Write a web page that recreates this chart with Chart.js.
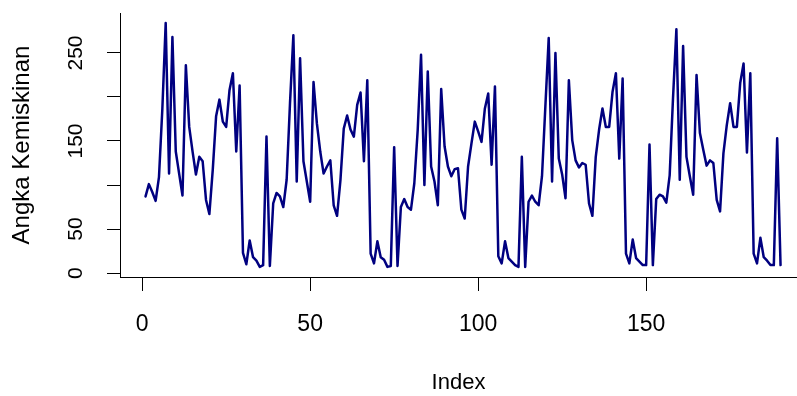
<!DOCTYPE html>
<html>
<head>
<meta charset="utf-8">
<script src="https://cdn.jsdelivr.net/npm/chart.js@4/dist/chart.umd.min.js"></script>
<style>
    html, body { margin: 0; padding: 0; background: #fff; }
</style>
</head>
<body>
<canvas id="povertyChart" width="797" height="396"></canvas>
<script>
// Angka kemiskinan, 38 kab/kota per periode, 5 periode berurutan
const period1 = [87, 101, 92, 82, 109, 186, 284, 113, 268, 138, 113, 88, 236, 166, 138, 112, 132, 127, 83, 67,
    117, 178, 197, 172, 166, 208, 227, 138, 213, 23, 10, 37, 18, 14, 7, 9, 155, 8];
const period2 = [79, 91, 87, 75, 106, 193, 270, 104, 244, 127, 104, 81, 217, 170, 138, 113, 121, 128, 77, 65,
    105, 164, 179, 163, 155, 191, 205, 127, 219, 22, 11, 36, 18, 15, 7, 8, 143, 8];
const period3 = [75, 84, 75, 72, 102, 162, 248, 100, 229, 121, 104, 77, 209, 144, 121, 110, 118, 119, 72, 62,
    121, 147, 172, 161, 149, 187, 204, 123, 212, 19, 11, 36, 17, 13, 9, 7, 132, 7];
const period4 = [81, 88, 81, 77, 110, 189, 267, 104, 250, 130, 112, 85, 219, 151, 128, 120, 125, 123, 79, 65,
    132, 163, 187, 166, 166, 206, 227, 130, 221, 22, 11, 38, 17, 13, 9, 9, 146, 9];
const period5 = [84, 89, 87, 80, 111, 199, 277, 106, 258, 132, 110, 89, 225, 159, 140, 122, 128, 125, 83, 70,
    136, 168, 193, 166, 166, 216, 238, 137, 227, 22, 11, 40, 18, 14, 9, 9, 153, 9];

// posisi tick dan label yang ditulis
const xTicks = [0, 50, 100, 150];
const yTicks = [0, 50, 100, 150, 200, 250];
const yTickLabels = [0, 50, 150, 250];   // 100 dan 200 tidak ditulis (seperti di R)

const values = period1.concat(period2, period3, period4, period5);
const index = values.map((v, i) => i + 1);

Chart.defaults.font.family = "'Liberation Sans', Arial, sans-serif";
Chart.defaults.color = '#000';

// buang padding otomatis supaya area plot pas
function noPadding(scale) {
    scale.paddingLeft = 0;
    scale.paddingRight = 0;
    scale.paddingTop = 0;
    scale.paddingBottom = 0;
}

const ctx = document.getElementById('povertyChart');
new Chart(ctx, {
    type: 'line',
    data: {
        datasets: [{
            data: index.map((x, i) => ({ x: x, y: values[i] })),
            borderColor: '#000080',
            borderWidth: 2.5,
            pointRadius: 0,
            tension: 0,
            borderJoinStyle: 'round',
            borderCapStyle: 'round'
        }]
    },
    options: {
        responsive: false,
        animation: false,
        devicePixelRatio: 1,
        layout: {
            padding: { top: 13, right: 0, bottom: 0, left: 0 }
        },
        plugins: {
            legend: { display: false },
            tooltip: { enabled: false }
        },
        scales: {
            x: {
                type: 'linear',
                min: -6.6,
                max: 194.9,
                afterBuildTicks: function(scale) {
                    scale.ticks = xTicks.map(v => ({ value: v }));
                },
                afterFit: function(scale) {
                    scale.height = 119;
                    noPadding(scale);
                },
                border: { display: true, color: '#000', width: 1 },
                grid: { drawOnChartArea: false, drawTicks: true, tickLength: 14, color: '#000', lineWidth: 1 },
                ticks: {
                    autoSkip: false,
                    maxRotation: 0,
                    padding: 20,
                    font: { size: 23 },
                    callback: function(value) { return String(value); }
                },
                title: {
                    display: true,
                    text: 'Index',
                    font: { size: 22 },
                    padding: { top: 0, bottom: 0 }
                }
            },
            y: {
                min: -4.5,
                max: 295.4,
                afterBuildTicks: function(scale) {
                    scale.ticks = yTicks.map(v => ({ value: v }));
                },
                afterFit: function(scale) {
                    scale.width = 120;
                    noPadding(scale);
                },
                border: { display: true, color: '#000', width: 1 },
                grid: { drawOnChartArea: false, drawTicks: true, tickLength: 13, color: '#000', lineWidth: 1 },
                ticks: {
                    autoSkip: false,
                    minRotation: 90,
                    maxRotation: 90,
                    crossAlign: 'center',
                    padding: 13,
                    font: { size: 21 },
                    callback: function(value) {
                        return yTickLabels.includes(value) ? String(value) : '';
                    }
                },
                title: {
                    display: true,
                    text: 'Angka Kemiskinan',
                    font: { size: 24 },
                    padding: { top: 8, bottom: 0 }
                }
            }
        }
    }
});
</script>
</body>
</html>
